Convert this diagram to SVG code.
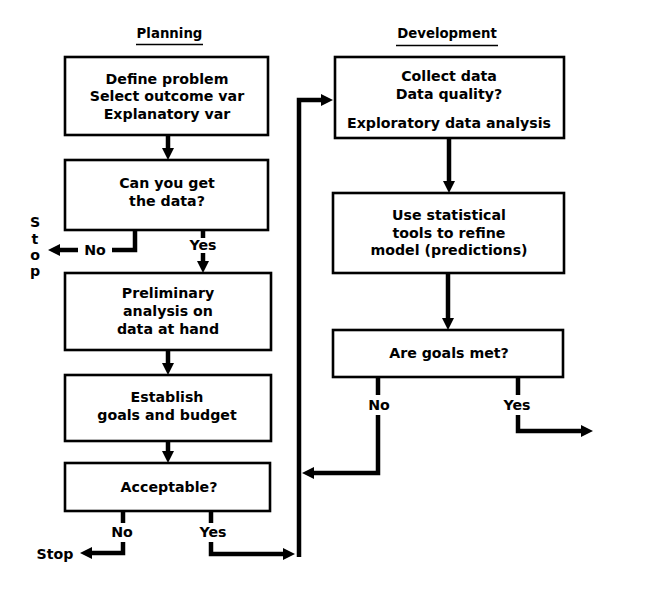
<svg xmlns="http://www.w3.org/2000/svg" width="649" height="592" viewBox="0 0 649 592">
<style>
  .box{fill:#fff;stroke:#000;stroke-width:2.6}
  .t{font-family:"DejaVu Sans","Liberation Sans",sans-serif;font-weight:bold;font-size:14.2px;fill:#000;text-anchor:middle}
  .h{font-family:"DejaVu Sans","Liberation Sans",sans-serif;font-weight:bold;font-size:13.3px;fill:#000;text-anchor:middle}
  .c{fill:none;stroke:#000;stroke-width:4.5;stroke-linejoin:miter;stroke-linecap:butt}
  .ca{fill:none;stroke:#000;stroke-width:4.5;stroke-linejoin:miter;stroke-linecap:butt;marker-end:url(#ah)}
  .u{stroke:#000;stroke-width:1.5}
</style>
<defs>
  <marker id="ah" markerUnits="userSpaceOnUse" viewBox="0 0 12 12" refX="0" refY="6" markerWidth="12" markerHeight="12" orient="auto">
    <path d="M0,0 L12,6 L0,12 z" fill="#000"/>
  </marker>
</defs>
<rect width="649" height="592" fill="#fff"/>

<g id="headings">
  <text class="h" x="169.5" y="38">Planning</text>
  <line class="u" x1="136" y1="44.5" x2="203" y2="44.5"/>
  <text class="h" x="447" y="38">Development</text>
  <line class="u" x1="396" y1="45.5" x2="498" y2="45.5"/>
</g>

<g id="connectors">
  <path class="ca" d="M168,136 V148"/>
  <path class="c" d="M135,231 V250 H112"/>
  <path class="ca" d="M78,250 H60"/>
  <path class="c" d="M203,231 V238"/>
  <path class="ca" d="M203,253 V261"/>
  <path class="ca" d="M168,351 V363"/>
  <path class="ca" d="M168,442 V451"/>
  <path class="c" d="M123,512 V523"/>
  <path class="ca" d="M123,542 V553 H92"/>
  <path class="c" d="M211,512 V523"/>
  <path class="ca" d="M211,542 V554 H283"/>
  <path class="ca" d="M299,557 V100 H321"/>
  <path class="ca" d="M449,139 V181"/>
  <path class="ca" d="M448,274 V318"/>
  <path class="c" d="M378,378 V395"/>
  <path class="ca" d="M378,415 V473 H314"/>
  <path class="c" d="M518,378 V395"/>
  <path class="ca" d="M518,415 V431 H581"/>
</g>

<g id="n1">
  <rect class="box" x="65" y="57" width="203" height="78"/>
  <text class="t" x="167" y="83.5">Define problem</text>
  <text class="t" x="167" y="101">Select outcome var</text>
  <text class="t" x="167" y="119">Explanatory var</text>
</g>
<g id="n2">
  <rect class="box" x="65" y="160" width="203" height="70"/>
  <text class="t" x="167" y="188">Can you get</text>
  <text class="t" x="167" y="206">the data?</text>
</g>
<g id="n2-labels">
  <text class="t" x="95" y="255">No</text>
  <text class="t" x="203" y="250">Yes</text>
  <text class="t" x="35" y="227">S</text>
  <text class="t" x="35" y="244">t</text>
  <text class="t" x="35" y="260">o</text>
  <text class="t" x="35" y="276">p</text>
</g>
<g id="n3">
  <rect class="box" x="65" y="273" width="206" height="77"/>
  <text class="t" x="168" y="298">Preliminary</text>
  <text class="t" x="168" y="316">analysis on</text>
  <text class="t" x="168" y="333.5">data at hand</text>
</g>
<g id="n4">
  <rect class="box" x="65" y="375" width="206" height="66"/>
  <text class="t" x="167" y="402">Establish</text>
  <text class="t" x="167" y="419.5">goals and budget</text>
</g>
<g id="n5">
  <rect class="box" x="65" y="463" width="205" height="48"/>
  <text class="t" x="169" y="492">Acceptable?</text>
</g>
<g id="n5-labels">
  <text class="t" x="122" y="537">No</text>
  <text class="t" x="213" y="537">Yes</text>
  <text class="t" x="55" y="559">Stop</text>
</g>
<g id="n6">
  <rect class="box" x="335" y="57" width="229" height="81"/>
  <text class="t" x="449" y="80.5">Collect data</text>
  <text class="t" x="449" y="98.5">Data quality?</text>
  <text class="t" x="449" y="128">Exploratory data analysis</text>
</g>
<g id="n7">
  <rect class="box" x="333" y="193" width="231" height="80"/>
  <text class="t" x="449" y="220">Use statistical</text>
  <text class="t" x="449" y="237.5">tools to refine</text>
  <text class="t" x="449" y="255">model (predictions)</text>
</g>
<g id="n8">
  <rect class="box" x="333" y="330" width="230" height="47"/>
  <text class="t" x="449" y="357.5">Are goals met?</text>
</g>
<g id="n8-labels">
  <text class="t" x="379" y="410">No</text>
  <text class="t" x="517" y="410">Yes</text>
</g>
</svg>
